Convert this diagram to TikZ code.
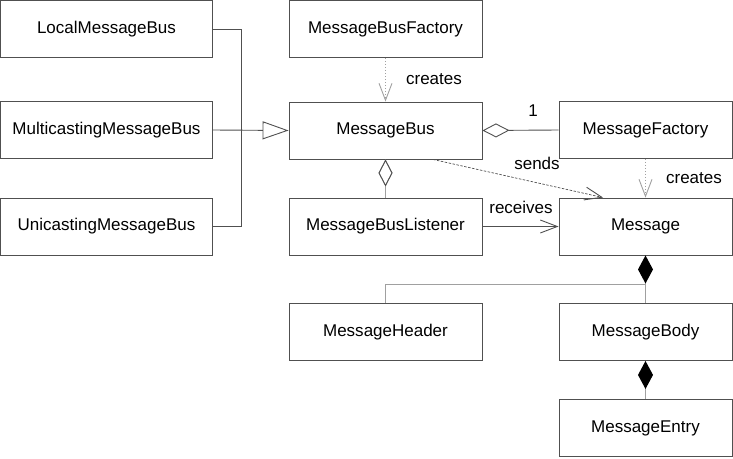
\documentclass[tikz,border=0pt]{standalone}
\usepackage{fontspec}
\setmainfont{Liberation Sans}
\usetikzlibrary{arrows.meta}
\definecolor{boxline}{HTML}{505050}
\definecolor{lightline}{HTML}{A0A0A0}
\begin{document}
\begin{tikzpicture}[x=1pt,y=-1pt,
  font=\fontsize{17}{20}\selectfont,
  cls/.style={draw=boxline,line width=0.9pt,minimum height=57pt,inner sep=0pt,fill=white},
  lbox/.style={cls,minimum width=212pt},
  mbox/.style={cls,minimum width=193pt},
  rbox/.style={cls,minimum width=173pt},
  openhead/.style={-{Straight Barb[length=17pt,width=13pt,line width=0.9pt]}},
  gen/.style={draw=boxline,line width=0.9pt},
  agg/.style={draw=boxline,line width=0.9pt,{Diamond[open,length=27pt,width=14pt,line width=0.9pt]}-},
  comp/.style={draw=lightline,line width=1.2pt,{Diamond[length=28pt,width=15pt,fill=black,color=black]}-},
  dep/.style={draw=lightline,line width=1pt,dash pattern=on 1.5pt off 1.5pt,openhead},
  lbl/.style={inner sep=0pt}
]
\useasboundingbox (0,0) rectangle (733,458);

\node[lbox] (L) at (106.5,29) {LocalMessageBus};
\node[lbox] (Mc) at (106.5,130) {MulticastingMessageBus};
\node[lbox] (U) at (106.5,226.5) {UnicastingMessageBus};

\node[mbox] (F) at (385.5,29) {MessageBusFactory};
\node[mbox] (MB) at (385.5,130.5) {MessageBus};
\node[mbox] (BL) at (385.5,226.5) {MessageBusListener};
\node[mbox] (MH) at (385.5,332) {MessageHeader};

\node[rbox] (MF) at (645.5,130) {MessageFactory};
\node[rbox] (Msg) at (645.5,226.5) {Message};
\node[rbox] (MBo) at (645.5,332) {MessageBody};
\node[rbox] (ME) at (645.5,428) {MessageEntry};

% generalization
\coordinate (J) at (241,130);
\draw[gen] (L.east) -| (J);
\draw[gen] (U.east) -| (J);
\draw[gen,-{Triangle[open,length=26pt,width=18pt,line width=0.9pt,fill=white]}] (Mc.east) -- (MB.west);

% creates (factory -> bus)
\draw[dep] (F.south) -- (MB.north);
\node[lbl] at (434,79) {creates};

% aggregation MessageBus - MessageFactory
\draw[agg] (MB.east) -- (MF.west);
\node[lbl] at (533,111) {1};

% aggregation MessageBus - Listener
\draw[agg,draw=lightline] (MB.south) -- (BL.north);
\draw[draw=boxline,line width=0.9pt,{Diamond[open,length=27pt,width=14pt,line width=0.9pt]}-] (MB.south) -- ([yshift=-26pt]MB.south);

% sends
\draw[draw=boxline,line width=0.7pt,dash pattern=on 2.5pt off 1.5pt,-{Straight Barb[length=17pt,width=13pt,line width=0.9pt]}] ([xshift=47.5pt]MB.south) -- ([xshift=-42.5pt]Msg.north);
\node[lbl] at (537,163) {sends};

% receives
\draw[gen,openhead] (BL.east) -- (Msg.west);
\node[lbl] at (521,207) {receives};

% creates (message factory -> message)
\draw[dep] (MF.south) -- (Msg.north);
\node[lbl] at (694,178) {creates};

% composition
\draw[comp] (Msg.south) -- (MBo.north);
\draw[draw=lightline,line width=1.2pt] (MH.north) |- ([yshift=-29pt]Msg.south);
\draw[comp] (MBo.south) -- (ME.north);
\end{tikzpicture}
\end{document}
